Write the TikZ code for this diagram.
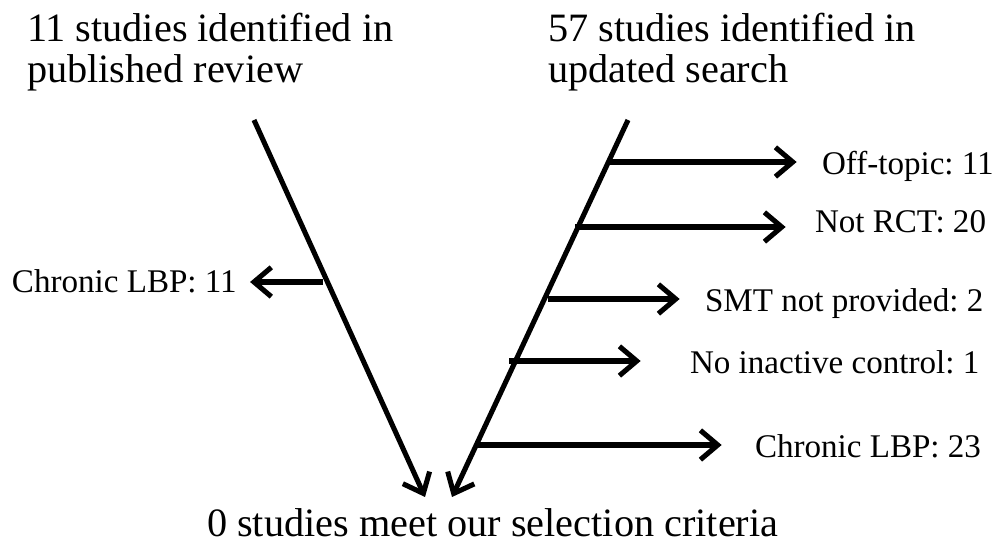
\documentclass[tikz,border=0pt]{standalone}
\usepackage{fontspec}
\setmainfont{Liberation Serif}
\frenchspacing
\usetikzlibrary{arrows.meta}
\tikzset{
  big/.style={inner sep=0pt, outer sep=0pt, align=left, font=\fontsize{30.2}{30.75}\selectfont},
  small/.style={inner sep=0pt, outer sep=0pt, anchor=base west, font=\fontsize{24.8}{28}\selectfont},
  flow/.style={line width=3.8pt, -{Straight Barb[length=13pt,width=22pt,line width=3.8pt]}},
}
\begin{document}
\begin{tikzpicture}[x=0.75pt,y=-0.75pt]
\useasboundingbox (0,0) rectangle (996,548);
% headings (base anchor = last line)
\node[big, anchor=base west] (pub) at (27,83) {11 studies identified in\\published review};
\node[big, anchor=base west] (upd) at (548,83) {57 studies identified in\\updated search};
\node[big, anchor=base west] (res) at (207,537) {0 studies meet our selection criteria};
% trunks
\coordinate (ltop) at (254,120);
\coordinate (ltip) at (425,497);
\coordinate (rtop) at (628,120);
\coordinate (rtip) at (452,497);
\draw[flow] (ltop) -- (ltip);
\draw[flow] (rtop) -- (rtip);
% left exclusion
\coordinate (lb1) at (323,282);
\node[small] (l1) at (12,293) {Chronic LBP: 11};
\draw[flow] (lb1) -- ([xshift=10pt]l1.east |- lb1);
% right exclusions
\coordinate (rb1) at (609,162);
\coordinate (rb2) at (575,227);
\coordinate (rb3) at (548,299);
\coordinate (rb4) at (509,361);
\coordinate (rb5) at (478,445);
\node[small] (e1) at (822,175) {Off-topic: 11};
\node[small] (e2) at (815,233) {Not RCT: 20};
\node[small] (e3) at (705,312) {SMT not provided: 2};
\node[small] (e4) at (690,374) {No inactive control: 1};
\node[small] (e5) at (755,458) {Chronic LBP: 23};
\draw[flow] (rb1) -- ([xshift=-19pt]e1.west |- rb1);
\draw[flow] (rb2) -- ([xshift=-22pt]e2.west |- rb2);
\draw[flow] (rb3) -- ([xshift=-19pt]e3.west |- rb3);
\draw[flow] (rb4) -- ([xshift=-37pt]e4.west |- rb4);
\draw[flow] (rb5) -- ([xshift=-25pt]e5.west |- rb5);
\end{tikzpicture}
\end{document}
